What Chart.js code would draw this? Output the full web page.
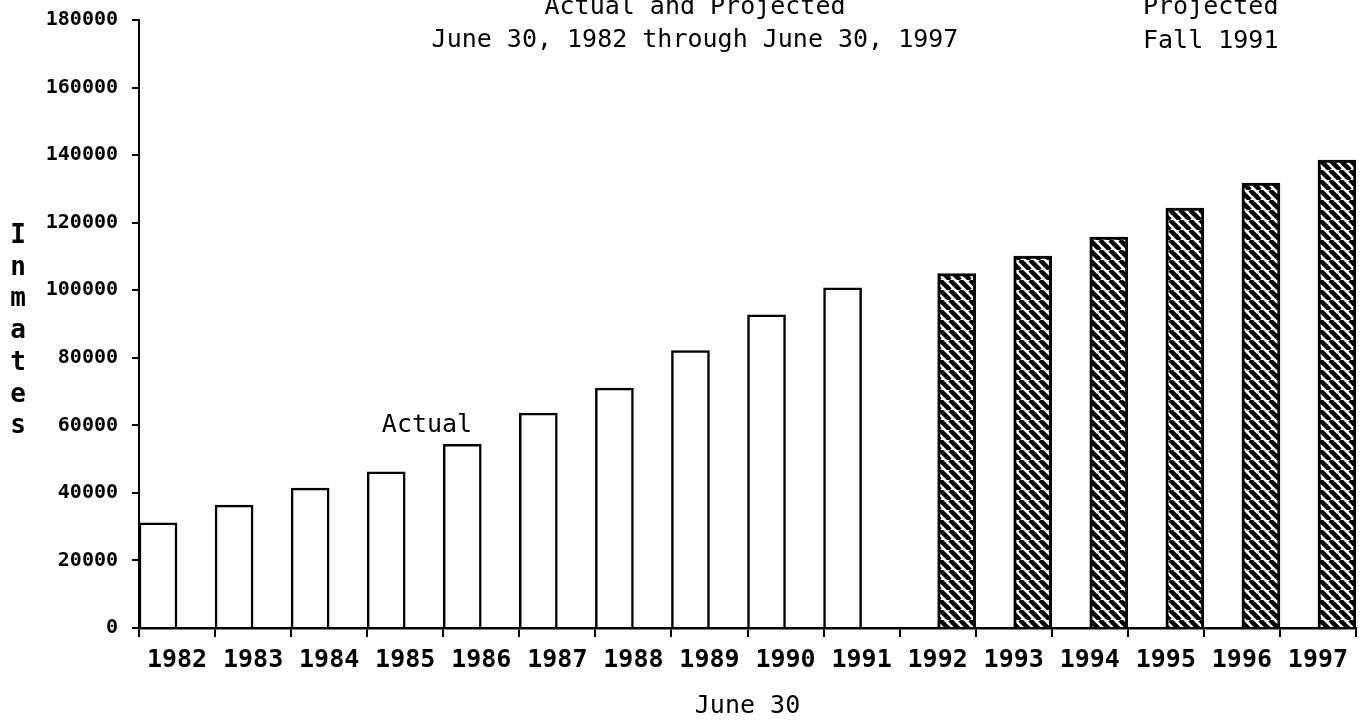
<!DOCTYPE html>
<html>
<head>
<meta charset="utf-8">
<title>Inmates, Actual and Projected</title>
<script src="https://cdn.jsdelivr.net/npm/chart.js@4.4.1/dist/chart.umd.min.js"></script>
<style>
  body { margin: 0; background: #fff; }
  #wrap { width: 1364px; height: 724px; }
</style>
</head>
<body>
<div id="wrap"><canvas id="inmates-chart"></canvas></div>
<script>
const years = ['1982', '1983', '1984', '1985', '1986', '1987', '1988', '1989',
               '1990', '1991', '1992', '1993', '1994', '1995', '1996', '1997'];
const actualInmates = [31100, 36400, 41400, 46200, 54400, 63600, 71000, 82100,
                       92700, 100700, null, null, null, null, null, null];
const projectedInmates = [null, null, null, null, null, null, null, null,
                          null, null, 104900, 110100, 115700, 124300, 131700, 138500];
const yTicks = [0, 20000, 40000, 60000, 80000, 100000, 120000, 140000, 160000, 180000];

const titleLines = ['Actual and Projected', 'June 30, 1982 through June 30, 1997'];
const projectedNote = ['Projected', 'Fall 1991'];
const yLabel = 'Inmates';

const MONO = '"DejaVu Sans Mono", "Liberation Mono", monospace';

// diagonal hatching for the projected bars
function makeHatch() {
    const size = 10;
    const c = document.createElement('canvas');
    c.width = size;
    c.height = size;
    const g = c.getContext('2d');
    g.fillStyle = '#fff';
    g.fillRect(0, 0, size, size);
    g.strokeStyle = '#000';
    g.lineWidth = 4.5;
    g.beginPath();
    for (let k = -1; k <= 1; k++) {
        g.moveTo(k * size, 0);
        g.lineTo(k * size + size, size);
    }
    g.stroke();
    return g.createPattern(c, 'repeat');
}

const textPlugin = {
    id: 'textPlugin',
    afterDraw(chart) {
        const ctx = chart.ctx;
        ctx.save();
        ctx.fillStyle = '#000';
        ctx.textBaseline = 'alphabetic';

        ctx.font = '25px ' + MONO;
        ctx.textAlign = 'center';
        titleLines.forEach((t, i) => ctx.fillText(t, 695, 14 + i * 33));

        ctx.textAlign = 'left';
        projectedNote.forEach((t, i) => ctx.fillText(t, 1143, 14 + i * 34));

        ctx.textAlign = 'center';
        ctx.fillText('Actual', 427, 432);

        ctx.font = 'bold 26px ' + MONO;
        yLabel.split('').forEach((ch, i) => ctx.fillText(ch, 18, 243 + i * 31.7));
        ctx.restore();
    }
};

const ctx = document.getElementById('inmates-chart').getContext('2d');
const hatch = makeHatch();

new Chart(ctx, {
    type: 'bar',
    data: {
        labels: years,
        datasets: [{
            label: 'Actual',
            data: actualInmates,
            backgroundColor: '#fff',
            borderColor: '#000',
            borderWidth: 2.5
        }, {
            label: 'Projected',
            data: projectedInmates,
            backgroundColor: hatch,
            borderColor: '#000',
            borderWidth: 3
        }]
    },
    options: {
        responsive: true,
        maintainAspectRatio: false,
        animation: false,
        categoryPercentage: 1,
        barPercentage: 1,
        layout: {
            padding: { left: 0, right: 8, top: 20, bottom: 0 }
        },
        plugins: {
            legend: { display: false },
            tooltip: { enabled: false }
        },
        scales: {
            x: {
                afterFit: axis => {
                    axis.height = 96;
                    axis.paddingLeft = 0;
                    axis.paddingRight = 0;
                },
                grid: {
                    offset: true,
                    drawOnChartArea: false,
                    drawTicks: true,
                    tickLength: 9,
                    color: '#000',
                    lineWidth: 2
                },
                border: { display: true, color: '#000', width: 2.5 },
                ticks: {
                    color: '#000',
                    padding: 8,
                    maxRotation: 0,
                    autoSkip: false,
                    font: { family: MONO, size: 25, weight: 'bold' }
                },
                title: {
                    display: true,
                    text: 'June 30',
                    color: '#000',
                    padding: { top: 0, bottom: 3 },
                    font: { family: MONO, size: 25 }
                }
            },
            y: {
                min: 0,
                max: 180000,
                afterFit: axis => {
                    axis.width = 139;
                    axis.paddingTop = 0;
                    axis.paddingBottom = 0;
                },
                afterBuildTicks: axis => { axis.ticks = yTicks.map(v => ({ value: v })); },
                grid: {
                    drawOnChartArea: false,
                    drawTicks: true,
                    tickLength: 7,
                    color: '#000',
                    lineWidth: 2
                },
                border: { display: true, color: '#000', width: 2 },
                ticks: {
                    color: '#000',
                    padding: 14,
                    font: { family: MONO, size: 20, weight: 'bold' },
                    callback: v => String(v)
                }
            }
        }
    },
    plugins: [textPlugin]
});
</script>
</body>
</html>
